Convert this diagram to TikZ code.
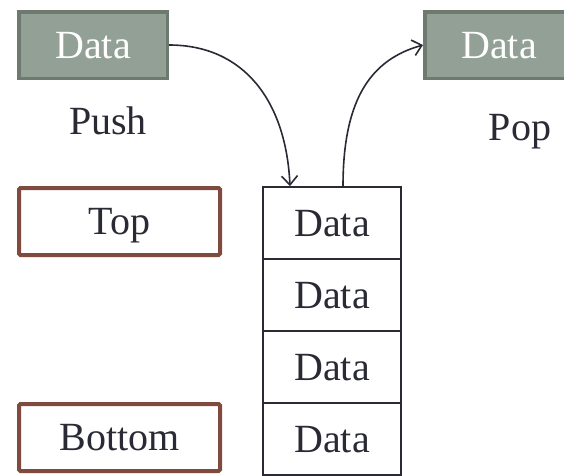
\documentclass[tikz,border=0pt]{standalone}
\usepackage{fontspec}
\setmainfont{Liberation Serif}
\usetikzlibrary{arrows.meta,calc}
\definecolor{boxgray}{HTML}{93A096}
\definecolor{graybd}{HTML}{6E7A70}
\definecolor{brownbd}{HTML}{7E4B3E}
\definecolor{ink}{HTML}{2A2A35}
\begin{document}
\begin{tikzpicture}[x=1pt,y=-1pt,
  txt/.style={font=\fontsize{40}{48}\selectfont, text height=26.4pt, text depth=0pt, inner sep=0pt, text=ink},
  databox/.style={txt, draw=graybd, fill=boxgray, line width=3.5pt, text=white, minimum width=148.5pt, minimum height=66.5pt},
  markbox/.style={txt, draw=brownbd, line width=4pt, rounded corners=1.5pt, minimum width=201pt, minimum height=67pt},
  cell/.style={txt, draw=ink, line width=1.8pt, minimum width=138.2pt, minimum height=72pt},
  arr/.style={draw=ink, line width=1.6pt, -{Straight Barb[length=9pt,width=16pt,line width=1.6pt]}}
]
\useasboundingbox (0,0) rectangle (564,475);
\clip (0,0) rectangle (564,475);
\fill[white] (0,0) rectangle (564,475);

\node[databox] (dL) at (93,45) {Data};
\node[databox] (dR) at (499,45) {Data};
\node[txt] (push) at (108,121) {Push};
\node[txt] (pop) at (520,127) {Pop};

\node[markbox] (top) at (119.5,221.5) {Top};
\node[markbox] (bot) at (119.5,437.5) {Bottom};

\node[cell] (c1) at (332,223) {Data};
\node[cell] (c2) at (332,295) {Data};
\node[cell] (c3) at (332,367) {Data};
\node[cell] (c4) at (332,439) {Data};

\coordinate (pin) at ($(c1.north west)+(28,0)$);
\coordinate (pout) at ($(c1.north west)+(81,0)$);

\draw[arr] (dL.east) .. controls +(75,0) and +(-4,-85) .. (pin);
\draw[arr] (pout) .. controls +(0,-90) and +(-50,14) .. (dR.west);
\end{tikzpicture}
\end{document}
